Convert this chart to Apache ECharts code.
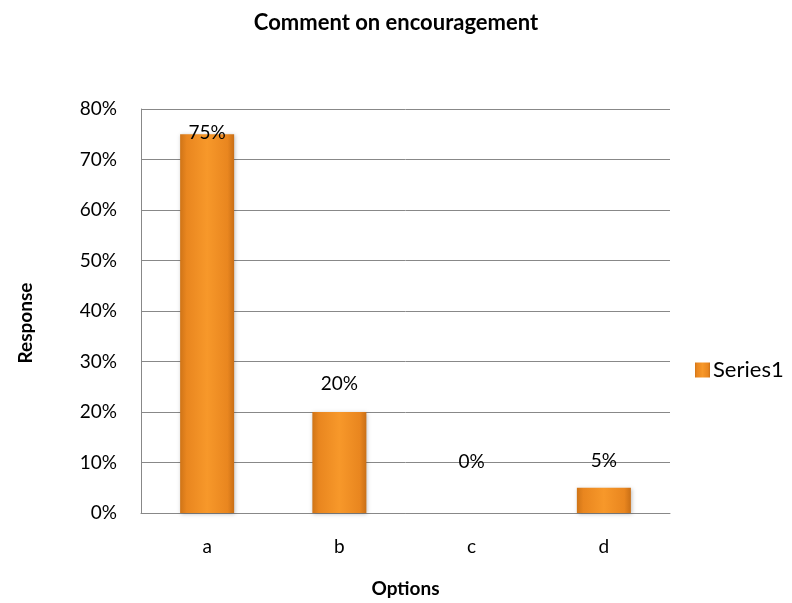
<!DOCTYPE html>
<html>
<head>
<meta charset="utf-8">
<script src="https://cdn.jsdelivr.net/npm/echarts@6/dist/echarts.min.js"></script>
<style>
  html, body { margin: 0; padding: 0; background: #fff; }
  #chart { width: 792px; height: 603px; }
</style>
</head>
<body>
<div id="chart"></div>
<script>
// chart data
const categories = ["a", "b", "c", "d"];
const seriesName = "Series1";
const responses = [75, 20, 0, 5];
const yTicks = [0, 10, 20, 30, 40, 50, 60, 70, 80];

// label offset above the bar, per category (Excel placed them a bit unevenly)
const labelDistance = [-8, 19, 42, 17];

const font = "Lato, 'Open Sans', sans-serif";

const barColor = new echarts.graphic.LinearGradient(0, 0, 1, 0, [
  { offset: 0, color: "#cf7417" },
  { offset: 0.12, color: "#e9861f" },
  { offset: 0.5, color: "#f7982a" },
  { offset: 0.88, color: "#e9861f" },
  { offset: 1, color: "#c96f16" }
]);

const option = {
  animation: false,
  title: {
    text: "Comment on encouragement",
    left: "center",
    top: 7,
    textStyle: { fontFamily: font, fontSize: 22, fontWeight: "bold", color: "#000" }
  },
  legend: {
    data: [seriesName],
    orient: "vertical",
    left: 690,
    top: 354,
    icon: "rect",
    itemWidth: 15,
    itemHeight: 15,
    itemGap: 4,
    textStyle: { fontFamily: font, fontSize: 22, color: "#000", padding: [0, 0, 0, -2] }
  },
  grid: { left: 141, right: 122, top: 109, bottom: 88, containLabel: false },
  xAxis: {
    type: "category",
    data: categories,
    name: "Options",
    nameLocation: "middle",
    nameGap: 66,
    nameTextStyle: { fontFamily: font, fontSize: 19, fontWeight: "bold", color: "#000" },
    axisLine: { lineStyle: { color: "#888", width: 1 } },
    axisTick: { show: false },
    axisLabel: { fontFamily: font, fontSize: 19, color: "#000", margin: 24 }
  },
  yAxis: {
    type: "value",
    min: yTicks[0],
    max: yTicks[yTicks.length - 1],
    interval: 10,
    name: "Response",
    nameLocation: "middle",
    nameGap: 106,
    nameTextStyle: {
      fontFamily: font, fontSize: 19, fontWeight: "bold", color: "#000",
      padding: [0, 24, 0, 0]
    },
    axisLine: { show: true, lineStyle: { color: "#888", width: 1 } },
    axisTick: { show: false },
    splitLine: { lineStyle: { color: "#888", width: 1 } },
    axisLabel: {
      fontFamily: font, fontSize: 19, color: "#000", margin: 24,
      formatter: v => v + "%"
    }
  },
  series: [{
    name: seriesName,
    type: "bar",
    barWidth: 54,
    data: responses.map((v, i) => ({
      value: v,
      label: { distance: labelDistance[i] }
    })),
    itemStyle: {
      color: barColor,
      shadowColor: "rgba(0,0,0,0.25)",
      shadowBlur: 4,
      shadowOffsetX: 1,
      shadowOffsetY: 1
    },
    label: {
      show: true,
      position: "top",
      fontFamily: font,
      fontSize: 19,
      color: "#000",
      formatter: p => p.value + "%"
    }
  }]
};

const myChart = echarts.init(document.getElementById("chart"));
myChart.setOption(option);
</script>
</body>
</html>
